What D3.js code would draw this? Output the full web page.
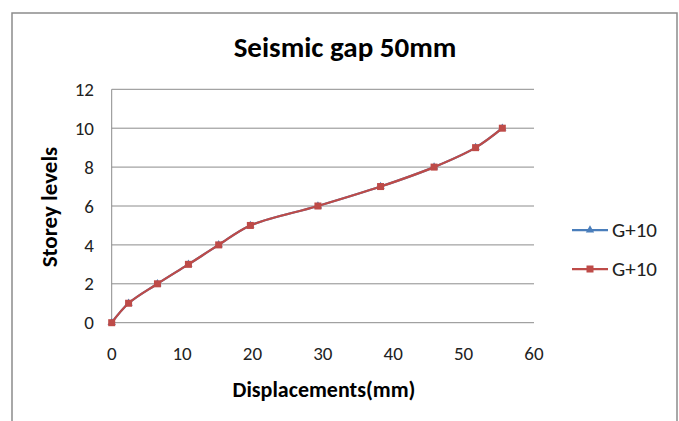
<!DOCTYPE html>
<html>
<head>
<meta charset="utf-8">
<script src="https://cdn.jsdelivr.net/npm/d3@7"></script>
<style>
html,body{margin:0;padding:0;background:#fff;}
svg{display:block;}
</style>
</head>
<body>
<svg id="chart" width="679" height="421"></svg>
<script>
const displacements = [0, 2.4, 6.5, 10.9, 15.2, 19.7, 29.3, 38.2, 45.8, 51.7, 55.5];
const storeyLevels = [0, 1, 2, 3, 4, 5, 6, 7, 8, 9, 10];
const seriesNames = ["G+10", "G+10"];
const xTicks = [0, 10, 20, 30, 40, 50, 60];
const yTicks = [0, 2, 4, 6, 8, 10, 12];
const titleText = "Seismic gap 50mm";
const xTitle = "Displacements(mm)";
const yTitle = "Storey levels";

const svg = d3.select("#chart");
const font = "Carlito, Lato, 'Open Sans', sans-serif";

// outer frame
svg.append("path")
  .attr("d", "M12,430 L12,13 L677,13 L677,430")
  .attr("fill", "none").attr("stroke", "#8c8c8c").attr("stroke-width", 1.5);

const x = d3.scaleLinear().domain([0, 60]).range([111.7, 534]);
const y = d3.scaleLinear().domain([0, 12]).range([322.7, 89.3]);

// gridlines
svg.append("g").selectAll("line").data(yTicks).join("line")
  .attr("x1", x(0)).attr("x2", x(60))
  .attr("y1", d => y(d)).attr("y2", d => y(d))
  .attr("stroke", "#8c8c8c").attr("stroke-width", 1);

// y axis line
svg.append("line").attr("x1", x(0)).attr("x2", x(0)).attr("y1", y(0)).attr("y2", y(12))
  .attr("stroke", "#8c8c8c").attr("stroke-width", 1);

// tick labels
svg.append("g").selectAll("text").data(yTicks).join("text")
  .attr("x", 94).attr("y", d => y(d)).attr("dy", "0.35em")
  .attr("text-anchor", "end").attr("font-family", font).attr("font-size", 19)
  .attr("fill", "#222").text(d => d);

svg.append("g").selectAll("text").data(xTicks).join("text")
  .attr("x", d => x(d)).attr("y", 353).attr("dy", "0.35em")
  .attr("text-anchor", "middle").attr("font-family", font).attr("font-size", 19)
  .attr("fill", "#222").text(d => d);

// titles
svg.append("text").attr("x", 345).attr("y", 57).attr("text-anchor", "middle")
  .attr("font-family", font).attr("font-weight", "bold").attr("font-size", 29)
  .attr("fill", "#000").text(titleText);

svg.append("text").attr("x", 324).attr("y", 389).attr("dy", "0.35em").attr("text-anchor", "middle")
  .attr("font-family", font).attr("font-weight", "bold").attr("font-size", 22)
  .attr("fill", "#000").text(xTitle);

svg.append("text").attr("transform", "translate(49,207) rotate(-90)").attr("dy", "0.35em")
  .attr("text-anchor", "middle")
  .attr("font-family", font).attr("font-weight", "bold").attr("font-size", 23)
  .attr("fill", "#000").text(yTitle);

const pts = displacements.map((d, i) => [d, storeyLevels[i]]);
const line = d3.line().x(d => x(d[0])).y(d => y(d[1])).curve(d3.curveCatmullRom.alpha(0.5));

const colors = ["#4a7ebb", "#be4b48"];

// series 1 (blue, triangles) - hidden below
svg.append("path").attr("d", line(pts)).attr("fill", "none")
  .attr("stroke", colors[0]).attr("stroke-width", 2.25);
svg.append("g").selectAll("path").data(pts).join("path")
  .attr("transform", d => `translate(${x(d[0])},${y(d[1])})`)
  .attr("d", d3.symbol().type(d3.symbolTriangle).size(30))
  .attr("fill", colors[0]);

// series 2 (red, squares)
svg.append("path").attr("d", line(pts)).attr("fill", "none")
  .attr("stroke", colors[1]).attr("stroke-width", 2.25);
svg.append("g").selectAll("rect").data(pts).join("rect")
  .attr("x", d => x(d[0]) - 3.5).attr("y", d => y(d[1]) - 3.5)
  .attr("width", 7).attr("height", 7)
  .attr("fill", colors[1]);

// legend
const legY = [230, 269];
const leg = svg.append("g");
seriesNames.forEach((name, i) => {
  leg.append("line").attr("x1", 572).attr("x2", 608).attr("y1", legY[i]).attr("y2", legY[i])
    .attr("stroke", colors[i]).attr("stroke-width", 2.25);
  if (i === 0) {
    leg.append("path").attr("transform", `translate(590,${legY[i]})`)
      .attr("d", d3.symbol().type(d3.symbolTriangle).size(30)).attr("fill", colors[i]);
  } else {
    leg.append("rect").attr("x", 590 - 3.5).attr("y", legY[i] - 3.5)
      .attr("width", 7).attr("height", 7).attr("fill", colors[i]);
  }
  leg.append("text").attr("x", 612).attr("y", legY[i]).attr("dy", "0.35em")
    .attr("font-family", font).attr("font-size", 21).attr("fill", "#222").text(name);
});
</script>
</body>
</html>
